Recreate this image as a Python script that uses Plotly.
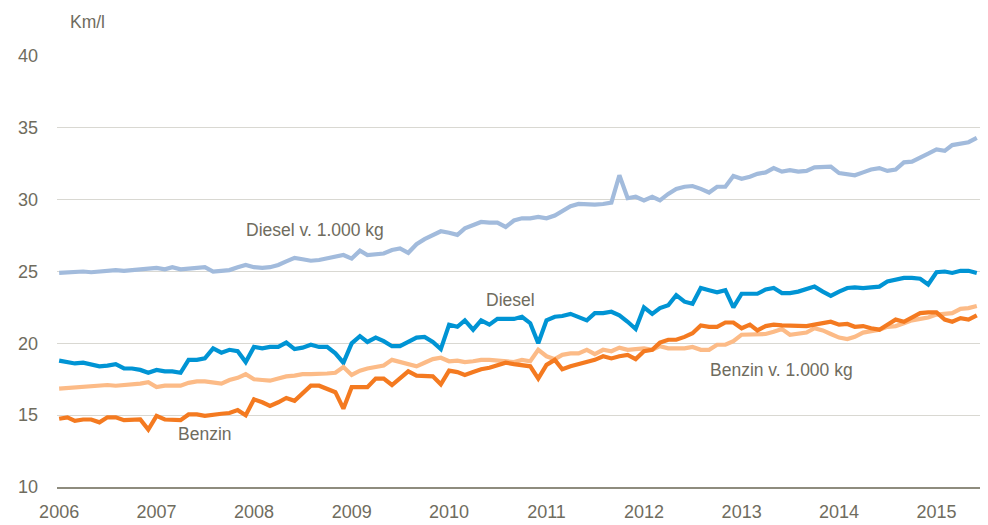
import plotly.graph_objects as go
import pandas as pd

months = pd.date_range("2006-01-01", periods=114, freq="MS")

diesel_1000 = [
    24.9, 24.95, 25.0, 25.0, 24.95, 25.0, 25.05, 25.1, 25.05, 25.1, 25.15, 25.2,
    25.25, 25.15, 25.3, 25.15, 25.2, 25.25, 25.3, 25.0, 25.05, 25.1, 25.3, 25.45,
    25.3, 25.25, 25.3, 25.45, 25.7, 25.95, 25.85, 25.75, 25.8, 25.9, 26.05, 26.15,
    25.9, 26.45, 26.15, 26.2, 26.25, 26.5, 26.6, 26.3, 26.9, 27.25, 27.5, 27.8,
    27.7, 27.55, 28.0, 28.2, 28.45, 28.4, 28.4, 28.1, 28.55, 28.7, 28.7, 28.8,
    28.7, 28.9, 29.2, 29.55, 29.7, 29.65, 29.65, 29.7, 29.8, 31.7, 30.1, 30.2,
    29.95, 30.2, 29.95, 30.4, 30.75, 30.9, 30.95, 30.75, 30.5, 30.9, 30.9, 31.65,
    31.45, 31.6, 31.8, 31.9, 32.2, 31.95, 32.05, 31.95, 32.0, 32.25, 32.25, 32.3,
    31.85, 31.75, 31.7, 31.9, 32.1, 32.2, 32.0, 32.1, 32.6, 32.65, 32.9, 33.2,
    33.5, 33.4, 33.8, 33.9, 34.0, 34.3,
]

diesel = [
    18.8, 18.7, 18.6, 18.65, 18.55, 18.4, 18.45, 18.55, 18.25, 18.25, 18.15, 17.95,
    18.15, 18.05, 18.05, 17.95, 18.85, 18.85, 18.95, 19.65, 19.35, 19.55, 19.45, 18.7,
    19.75, 19.65, 19.75, 19.75, 20.05, 19.6, 19.7, 19.9, 19.75, 19.75, 19.3, 18.65,
    20.0, 20.5, 20.1, 20.4, 20.15, 19.8, 19.8, 20.1, 20.4, 20.45, 20.1, 19.6,
    21.3, 21.15, 21.6, 20.95, 21.6, 21.3, 21.7, 21.7, 21.7, 21.85, 21.4, 20.0,
    21.6, 21.85, 21.9, 22.05, 21.85, 21.6, 22.1, 22.1, 22.2, 21.95, 21.5, 21.0,
    22.5, 22.05, 22.45, 22.65, 23.35, 22.9, 22.75, 23.85, 23.7, 23.55, 23.7, 22.5,
    23.45, 23.45, 23.45, 23.75, 23.85, 23.5, 23.5, 23.6, 23.75, 23.95, 23.6, 23.3,
    23.6, 23.85, 23.9, 23.85, 23.9, 23.95, 24.3, 24.45, 24.55, 24.55, 24.5, 24.1,
    24.95, 25.0, 24.9, 25.05, 25.05, 24.9,
]

benzin_1000 = [
    16.85, 16.9, 16.95, 16.95, 17.05, 17.1, 17.1, 17.05, 17.1, 17.1, 17.2, 17.3,
    16.95, 17.05, 17.05, 17.05, 17.25, 17.35, 17.35, 17.3, 17.2, 17.45, 17.6, 17.85,
    17.5, 17.45, 17.4, 17.55, 17.7, 17.75, 17.85, 17.85, 17.85, 17.9, 17.95, 18.35,
    17.8, 18.1, 18.25, 18.35, 18.45, 18.85, 18.7, 18.5, 18.4, 18.65, 18.9, 19.0,
    18.75, 18.8, 18.7, 18.75, 18.85, 18.85, 18.8, 18.75, 18.7, 18.85, 18.75, 19.55,
    19.1, 18.9, 19.2, 19.3, 19.3, 19.55, 19.25, 19.55, 19.45, 19.7, 19.55, 19.6,
    19.65, 19.55, 19.8, 19.65, 19.65, 19.65, 19.75, 19.55, 19.55, 19.9, 19.9, 20.15,
    20.6, 20.6, 20.6, 20.65, 20.8, 21.0, 20.6, 20.65, 20.75, 21.05, 20.9, 20.65,
    20.4, 20.3, 20.45, 20.75, 20.85, 20.95, 21.15, 21.2, 21.4, 21.6, 21.7, 21.8,
    22.0, 22.05, 22.1, 22.4, 22.45, 22.6,
]

benzin = [
    14.75, 14.85, 14.6, 14.7, 14.7, 14.5, 14.85, 14.85, 14.65, 14.7, 14.7, 14.0,
    14.95, 14.7, 14.65, 14.65, 15.05, 15.05, 14.95, 15.05, 15.1, 15.15, 15.35, 15.0,
    16.1, 15.9, 15.65, 15.9, 16.2, 16.0, 16.55, 17.05, 17.05, 16.85, 16.6, 15.45,
    16.95, 16.95, 16.95, 17.55, 17.55, 17.1, 17.6, 18.05, 17.75, 17.7, 17.7, 17.15,
    18.1, 18.0, 17.8, 18.0, 18.2, 18.3, 18.45, 18.65, 18.55, 18.45, 18.4, 17.55,
    18.5, 18.85, 18.2, 18.4, 18.55, 18.75, 18.85, 19.1, 18.95, 19.1, 19.2, 18.9,
    19.45, 19.55, 20.05, 20.25, 20.25, 20.45, 20.7, 21.25, 21.15, 21.15, 21.45, 21.45,
    21.05, 21.3, 20.9, 21.2, 21.3, 21.25, 21.25, 21.2, 21.2, 21.3, 21.4, 21.5,
    21.3, 21.35, 21.15, 21.2, 21.05, 20.95, 21.3, 21.65, 21.5, 21.8, 22.1, 22.15,
    22.15, 21.65, 21.5, 21.75, 21.65, 21.95,
]

y_ticks = [10, 15, 20, 25, 30, 35, 40]

TEXT = "#6f6c5e"
FONT = "Liberation Sans, Arial, sans-serif"

# page body has an 8px margin; plot area wanted at x 57..988, y 56..487
OFF = 8
W, H = 988 - OFF, 525 - OFF
L, T, B = 57 - OFF, 56 - OFF, 38
PLOT_W = 988 - 57
PLOT_H = 487 - 56

fig = go.Figure()
series = [
    ("Diesel v. 1.000 kg", diesel_1000, "#a2bbdc"),
    ("Diesel", diesel, "#0094d4"),
    ("Benzin v. 1.000 kg", benzin_1000, "#fcbb87"),
    ("Benzin", benzin, "#f47a20"),
]
for name, vals, col in series:
    fig.add_trace(go.Scatter(x=months, y=vals, mode="lines", name=name,
                             line=dict(color=col, width=4.2, shape="linear")))

labels = [
    ("Diesel v. 1.000 kg", "2008-08-18", 27.9),
    ("Diesel", "2010-08-20", 23.05),
    ("Benzin", "2007-07-01", 13.7),
    ("Benzin v. 1.000 kg", "2013-06-01", 18.15),
]
for txt, xd, yv in labels:
    fig.add_annotation(x=xd, y=yv, text=txt, showarrow=False,
                       font=dict(size=17.5, color=TEXT, family=FONT))

fig.add_annotation(x=(68 - 57) / PLOT_W, y=1 + (56 - 22) / PLOT_H,
                   xref="paper", yref="paper", text="Km/l",
                   xanchor="left", yanchor="middle", showarrow=False,
                   font=dict(size=17.5, color=TEXT, family=FONT))

fig.update_layout(
    width=W, height=H,
    margin=dict(l=L, r=0, t=T, b=B, autoexpand=False),
    paper_bgcolor="white", plot_bgcolor="white",
    showlegend=False,
    font=dict(family=FONT, color=TEXT, size=18),
    xaxis=dict(
        type="date",
        range=["2005-12-24", "2015-07-13"],
        dtick="M12", tick0="2006-01-01", tickformat="%Y",
        showgrid=False, showline=True, linecolor="#8e8c7e", linewidth=1.5,
        ticks="", tickfont=dict(size=18, color=TEXT, family=FONT),
        ticklabelstandoff=8,
    ),
    yaxis=dict(
        range=[10, 40], tickvals=y_ticks, showgrid=True,
        gridcolor="#d9d8d2", gridwidth=1.3, zeroline=False,
        ticks="", tickfont=dict(size=18, color=TEXT, family=FONT),
        ticklabelstandoff=18,
    ),
)

fig.write_html("out.html")
